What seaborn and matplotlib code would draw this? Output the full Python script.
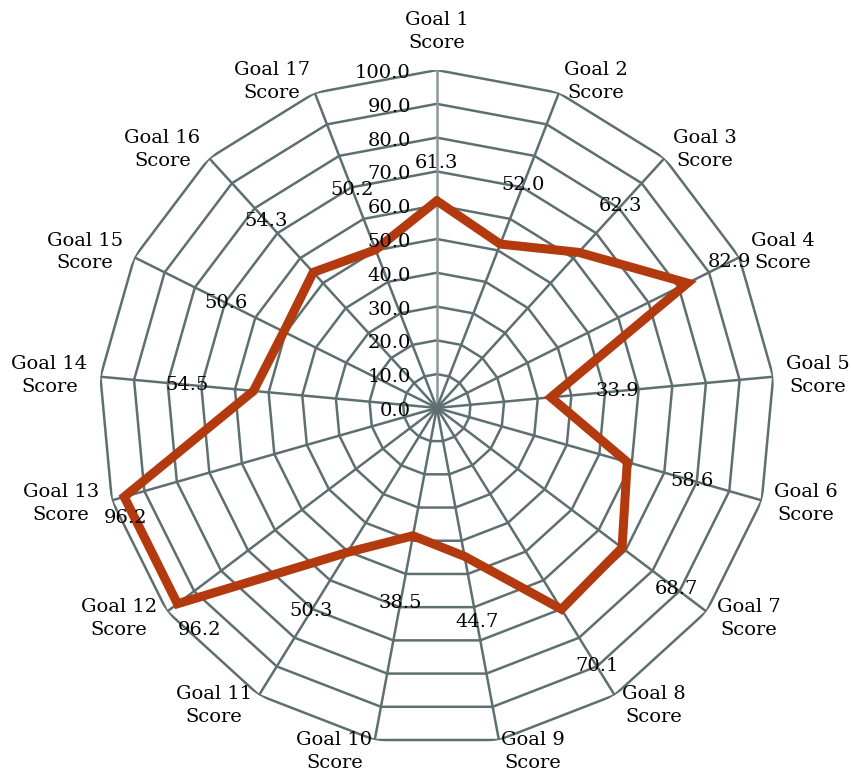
import numpy as np
import pandas as pd
import matplotlib
matplotlib.use("Agg")
import matplotlib.pyplot as plt
import seaborn as sns

# Goal scores (0-100) for the 17 goals
goals = [f"Goal {i}" for i in range(1, 18)]
scores = [61.3, 52.0, 62.3, 82.9, 33.9, 58.6, 68.7, 70.1, 44.7,
          38.5, 50.3, 96.2, 96.2, 54.5, 50.6, 54.3, 50.2]
ring_values = [0, 10, 20, 30, 40, 50, 60, 70, 80, 90, 100]
ring_labels = [f"{v:.1f}" for v in ring_values]

# radial distance (in score units) between each point and its value label
label_gap = [11.2, 18.7, 18.5, 13.8, 19.7, 20.1, 20.1, 19.9, 19.8,
             20.1, 20.4, 0.0, 0.0, 19.8, 19.2, 20.6, 19.0]
# extra shift in pixels for labels that sit beside their point
label_nudge = {11: (22, -26), 12: (1, -21)}

sns.set_theme(style="white")
plt.rcParams["font.family"] = ["DejaVu Serif"]

GRID = "#5E6F70"
LINE = "#B23A0E"
FS = 14

fig = plt.figure(figsize=(8.51, 7.78), dpi=100)
ax = fig.add_axes([0.1163, 0.0412, 0.794, 0.869], projection="polar")
ax.set_theta_zero_location("N")
ax.set_theta_direction(-1)
ax.set_ylim(0, 100)
ax.grid(False)
ax.spines["polar"].set_visible(False)
ax.set_xticks([])
ax.set_yticks([])
ax.set_facecolor("white")

n = len(goals)
theta = np.linspace(0, 2 * np.pi, n, endpoint=False)
theta_closed = np.append(theta, theta[0])

# polygonal rings
for v in ring_values[1:]:
    ax.plot(theta_closed, [v] * (n + 1), color=GRID, lw=1.8, zorder=1)

# spokes
for i, t in enumerate(theta):
    ax.plot([t, t], [0, 100], color="#8C9898" if i == 0 else GRID,
            lw=1.8, zorder=1)

# score polygon
df = pd.DataFrame({"theta": theta_closed,
                   "score": scores + [scores[0]]})
sns.lineplot(data=df, x="theta", y="score", ax=ax, sort=False,
             estimator=None, color=LINE, lw=6.5, zorder=3)
ax.get_lines()[-1].set_solid_joinstyle("miter")

# ring value labels along the first axis
for v, lab in zip(ring_values, ring_labels):
    ax.annotate(lab, xy=(0, v), xytext=(-26, -3), textcoords="offset pixels",
                ha="right", va="center", fontsize=FS, color="black",
                annotation_clip=False, zorder=4)

# value labels
for i, (t, s, g) in enumerate(zip(theta, scores, label_gap)):
    ax.annotate(f"{s:.1f}", xy=(t, s + g), xytext=label_nudge.get(i, (0, 0)),
                textcoords="offset pixels", ha="center", va="center",
                fontsize=FS, color="black", annotation_clip=False, zorder=4)

# category labels
for t, g in zip(theta, goals):
    st, ct = np.sin(t), np.cos(t)
    if abs(st) < 0.01:
        ha, va, off = "center", "bottom", (0, 18)
    else:
        ha = "left" if st > 0 else "right"
        va = "center"
        off = (13 * st, 12 * ct)
    ax.annotate(f"{g}\nScore", xy=(t, 100), xytext=off,
                textcoords="offset pixels", ha=ha, va=va,
                multialignment="center", fontsize=FS, color="black",
                linespacing=1.35, annotation_clip=False)

fig.savefig("out.png", dpi=100, facecolor="white")
